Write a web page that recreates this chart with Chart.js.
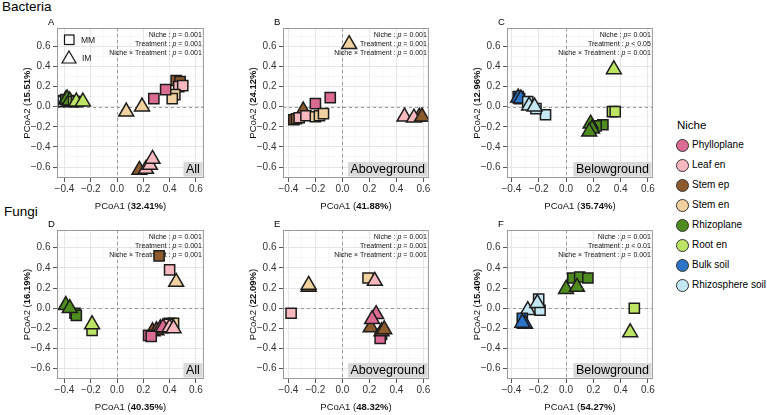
<!DOCTYPE html>
<html>
<head>
<meta charset="utf-8">
<script src="https://cdn.jsdelivr.net/npm/chart.js@4.4.0/dist/chart.umd.min.js"></script>
<style>
  body { margin: 0; background: #fff; font-family: "Liberation Sans", Arial, Helvetica, sans-serif; }
  #wrap { position: relative; width: 767px; height: 415px; overflow: hidden; }
  #wrap canvas { position: absolute; }
  .rowTitle { position: absolute; font-size: 13.5px; color: #000; line-height: 14px; }
  .lg { position: absolute; font-size: 10px; line-height: 12px; color: #000; white-space: nowrap; }
  .dot { position: absolute; width: 11px; height: 11px; border-radius: 50%; border: 1px solid #333; }
</style>
</head>
<body>
<div id="wrap">
  <div class="rowTitle" style="left:2px;top:0px;">Bacteria</div>
  <div class="rowTitle" style="left:4px;top:205px;">Fungi</div>
</div>
<script>
// niches and their fill colours
const niches = ['Phylloplane', 'Leaf en', 'Stem ep', 'Stem en', 'Rhizoplane', 'Root en', 'Bulk soil', 'Rhizosphere soil'];
const nicheColors = ['#dc6b93', '#f8b8c0', '#8d5a2e', '#f1d19f', '#4f8c1f', '#bde463', '#2b74c8', '#c4e7f4'];
const treatments = ['MM', 'IM'];

// gridline positions (every 0.1), labels only on the even ones
const xGrid = [-0.4, -0.3, -0.2, -0.1, 0.0, 0.1, 0.2, 0.3, 0.4, 0.5, 0.6];
const yGrid = [-0.7, -0.6, -0.5, -0.4, -0.3, -0.2, -0.1, 0.0, 0.1, 0.2, 0.3, 0.4, 0.5, 0.6, 0.7];

// points: [PCoA1, PCoA2, niche index, treatment index (0 = MM, 1 = IM)]
const bacAll = [
  [-0.42, 0.06, 6, 0], [-0.41, 0.05, 7, 0], [-0.39, 0.07, 7, 1], [-0.39, 0.07, 4, 0], [-0.37, 0.06, 4, 0],
  [-0.38, 0.08, 4, 1], [-0.36, 0.06, 4, 1], [-0.33, 0.05, 5, 0], [-0.31, 0.05, 5, 0], [-0.31, 0.05, 5, 1], [-0.26, 0.05, 5, 1],
  [0.07, -0.05, 3, 1], [0.19, 0.0, 3, 1],
  [0.45, 0.26, 2, 0], [0.48, 0.25, 2, 0], [0.47, 0.20, 1, 0], [0.50, 0.21, 1, 0],
  [0.44, 0.12, 3, 0], [0.42, 0.08, 3, 0], [0.37, 0.17, 0, 0], [0.28, 0.08, 0, 0],
  [0.17, -0.63, 2, 1], [0.22, -0.62, 1, 1], [0.25, -0.58, 1, 1], [0.27, -0.52, 1, 1]
];
const bacAbove = [
  [-0.29, -0.04, 2, 1], [-0.36, -0.13, 2, 0], [-0.34, -0.12, 2, 0],
  [-0.32, -0.11, 1, 0], [-0.27, -0.09, 1, 0], [-0.20, 0.03, 0, 0], [-0.09, 0.09, 0, 0],
  [-0.20, -0.10, 3, 0], [-0.17, -0.09, 3, 0], [-0.14, -0.07, 3, 0],
  [0.05, 0.62, 3, 1],
  [0.46, -0.10, 1, 1], [0.57, -0.10, 2, 1], [0.53, -0.11, 1, 1], [0.59, -0.10, 2, 1]
];
const bacBelow = [
  [-0.35, 0.10, 6, 0], [-0.34, 0.08, 6, 0], [-0.35, 0.09, 6, 1], [-0.33, 0.08, 6, 1],
  [-0.28, 0.05, 7, 0], [-0.15, -0.08, 7, 0], [-0.22, -0.02, 7, 0], [-0.27, 0.01, 7, 1], [-0.23, 0.0, 7, 1],
  [0.27, -0.18, 4, 0], [0.22, -0.19, 4, 0], [0.18, -0.17, 4, 1], [0.19, -0.22, 4, 1], [0.17, -0.25, 4, 1],
  [0.34, -0.05, 5, 0], [0.36, -0.05, 5, 0], [0.35, 0.37, 5, 1]
];
const fungAll = [
  [-0.39, 0.03, 4, 1], [-0.32, -0.05, 4, 0], [-0.31, -0.07, 4, 0], [-0.36, 0.0, 4, 1],
  [-0.19, -0.22, 5, 0], [-0.19, -0.16, 5, 1],
  [0.32, 0.52, 2, 0], [0.40, 0.38, 1, 0], [0.45, 0.26, 3, 1],
  [0.40, -0.15, 2, 0], [0.43, -0.15, 3, 0], [0.39, -0.16, 1, 0],
  [0.27, -0.23, 2, 1], [0.30, -0.22, 2, 1], [0.33, -0.20, 0, 1], [0.35, -0.19, 0, 1],
  [0.40, -0.19, 1, 1], [0.43, -0.20, 1, 1], [0.24, -0.27, 0, 0], [0.26, -0.28, 0, 0]
];
const fungAbove = [
  [-0.38, -0.05, 1, 0], [-0.25, 0.21, 2, 1], [-0.25, 0.23, 3, 1], [0.19, 0.30, 3, 0], [0.24, 0.27, 1, 1],
  [0.25, -0.06, 0, 1], [0.21, -0.19, 2, 1], [0.22, -0.11, 0, 1],
  [0.29, -0.26, 2, 0], [0.28, -0.30, 0, 0], [0.29, -0.23, 2, 1], [0.31, -0.21, 2, 1]
];
const fungBelow = [
  [0.05, 0.30, 4, 0], [0.10, 0.31, 4, 0], [0.16, 0.30, 4, 0], [0.00, 0.19, 4, 1], [0.08, 0.21, 4, 1],
  [0.50, 0.0, 5, 0], [0.47, -0.24, 5, 1],
  [-0.20, 0.09, 7, 0], [-0.19, -0.02, 7, 0], [-0.28, -0.02, 7, 1], [-0.21, 0.05, 7, 1],
  [-0.32, -0.10, 6, 0], [-0.30, -0.155, 6, 1], [-0.32, -0.145, 6, 1]
];

// PERMANOVA lines
const statLabels = ['Niche : ', 'Treatment : ', 'Niche \u00d7 Treatment : '];
const statsStd = [' = 0.001', ' = 0.001', ' = 0.001'];
const statsC = ['= 0.001', ' < 0.05', ' = 0.001'];
const statsF = [' = 0.001', ' < 0.01', ' = 0.001'];

const FONT = '"Liberation Sans", Arial, Helvetica, sans-serif';
Chart.defaults.font.family = FONT;

const panels = [
  { letter: 'A', pts: bacAll, xr: [-0.457, 0.661], yr: [-0.709, 0.782], rect: [57, 28, 208, 178], px: '32.41%', py: '15.51%', stats: statsStd, tag: 'All', inset: true },
  { letter: 'B', pts: bacAbove, xr: [-0.44, 0.641], yr: [-0.709, 0.782], rect: [283, 28, 433, 178], px: '41.88%', py: '24.12%', stats: statsStd, tag: 'Aboveground' },
  { letter: 'C', pts: bacBelow, xr: [-0.432, 0.636], yr: [-0.709, 0.782], rect: [507, 28, 657, 178], px: '35.74%', py: '12.96%', stats: statsC, tag: 'Belowground' },
  { letter: 'D', pts: fungAll, xr: [-0.457, 0.661], yr: [-0.702, 0.776], rect: [57, 230, 208, 379], px: '40.35%', py: '16.19%', stats: statsStd, tag: 'All' },
  { letter: 'E', pts: fungAbove, xr: [-0.44, 0.641], yr: [-0.702, 0.776], rect: [283, 230, 433, 379], px: '48.32%', py: '22.09%', stats: statsStd, tag: 'Aboveground' },
  { letter: 'F', pts: fungBelow, xr: [-0.432, 0.636], yr: [-0.702, 0.776], rect: [507, 230, 657, 379], px: '54.27%', py: '15.40%', stats: statsF, tag: 'Belowground' }
];

const isMajor = v => Math.abs(Math.round(v * 10)) % 2 === 0;
const fmt = v => (v < -1e-9 ? '\u2212' : '') + Math.abs(v).toFixed(1);

function axis(range, grid, fitSize, isX) {
  return {
    type: 'linear',
    min: range[0],
    max: range[1],
    afterBuildTicks: s => { s.ticks = grid.map(v => ({ value: v })); },
    afterFit: s => { if (isX) s.height = fitSize; else s.width = fitSize; },
    grid: {
      color: c => (c.tick && isMajor(c.tick.value)) ? '#e3e3e3' : '#f2f2f2',
      lineWidth: c => (c.tick && isMajor(c.tick.value)) ? 0.9 : 0.6,
      tickColor: c => (c.tick && isMajor(c.tick.value)) ? '#555' : 'rgba(0,0,0,0)',
      tickLength: 4,
      tickWidth: 1
    },
    border: { display: false },
    ticks: {
      autoSkip: false, maxRotation: 0, minRotation: 0,
      padding: isX ? 1 : 2.5,
      color: '#333',
      font: { size: 10 },
      callback: v => isMajor(v) ? fmt(v) : ''
    }
  };
}

// draws "PCoA1 (" + bold pct + ")" centred at 0,0 of the current transform
function mixedTitle(ctx, head, pct) {
  ctx.font = '9.5px ' + FONT;
  const w1 = ctx.measureText(head + ' (').width;
  ctx.font = 'bold 9.5px ' + FONT;
  const w2 = ctx.measureText(pct).width;
  ctx.font = '9.5px ' + FONT;
  const w3 = ctx.measureText(')').width;
  let x = -(w1 + w2 + w3) / 2;
  ctx.textAlign = 'left';
  ctx.textBaseline = 'middle';
  ctx.fillText(head + ' (', x, 0);
  ctx.font = 'bold 9.5px ' + FONT;
  ctx.fillText(pct, x + w1, 0);
  ctx.font = '9.5px ' + FONT;
  ctx.fillText(')', x + w1 + w2, 0);
}

function decor(p) {
  return {
    id: 'decor' + p.letter,
    beforeDatasetsDraw(chart) {
      const { ctx, chartArea: a, scales: { x, y } } = chart;
      ctx.save();
      // dashed zero lines
      ctx.strokeStyle = '#9a9a9a';
      ctx.lineWidth = 1;
      ctx.setLineDash([3, 3]);
      const x0 = Math.round(x.getPixelForValue(0)) + 0.5;
      const y0 = Math.round(y.getPixelForValue(0)) + 0.5;
      ctx.beginPath();
      ctx.moveTo(x0, a.top); ctx.lineTo(x0, a.bottom);
      ctx.moveTo(a.left, y0); ctx.lineTo(a.right, y0);
      ctx.stroke();
      ctx.setLineDash([]);
      // statistics, right aligned
      ctx.fillStyle = '#111';
      ctx.textBaseline = 'middle';
      for (let i = 0; i < 3; i++) {
        const yy = a.top + 7 + i * 8.8;
        ctx.font = '7px ' + FONT;
        const wTail = ctx.measureText(p.stats[i]).width;
        const wHead = ctx.measureText(statLabels[i]).width;
        ctx.font = 'italic 7px ' + FONT;
        const wP = ctx.measureText('p').width;
        let xx = a.right - 2 - wTail - wP - wHead;
        ctx.textAlign = 'left';
        ctx.font = '7px ' + FONT;
        ctx.fillText(statLabels[i], xx, yy);
        ctx.font = 'italic 7px ' + FONT;
        ctx.fillText('p', xx + wHead, yy);
        ctx.font = '7px ' + FONT;
        ctx.fillText(p.stats[i], xx + wHead + wP, yy);
      }
      // MM / IM key in panel A
      if (p.inset) {
        ctx.strokeStyle = '#111';
        ctx.lineWidth = 1.2;
        ctx.strokeRect(a.left + 7.5, a.top + 7, 9.5, 9.5);
        ctx.beginPath();
        const cx = a.left + 12, cy = a.top + 30;
        ctx.moveTo(cx, cy - 7); ctx.lineTo(cx + 7, cy + 5); ctx.lineTo(cx - 7, cy + 5); ctx.closePath();
        ctx.stroke();
        ctx.fillStyle = '#111';
        ctx.font = '8.5px ' + FONT;
        ctx.textAlign = 'left';
        ctx.fillText(treatments[0], a.left + 24, a.top + 12.5);
        ctx.fillText(treatments[1], a.left + 25, a.top + 31);
      }
      ctx.restore();
    },
    afterDraw(chart) {
      const { ctx, chartArea: a } = chart;
      ctx.save();
      // panel border
      ctx.strokeStyle = '#9b9b9b';
      ctx.lineWidth = 1;
      ctx.strokeRect(a.left + 0.5, a.top + 0.5, a.right - a.left - 1, a.bottom - a.top - 1);
      // subset tag
      ctx.font = '12.5px ' + FONT;
      const tw = ctx.measureText(p.tag).width;
      const bw = tw + 5, bh = 14.5;
      const bx = a.right - 1.5 - bw, by = a.bottom - 1.5 - bh;
      ctx.fillStyle = '#d9d9d9';
      ctx.fillRect(bx, by, bw, bh);
      ctx.fillStyle = '#000';
      ctx.textAlign = 'left';
      ctx.textBaseline = 'middle';
      ctx.fillText(p.tag, bx + 2.5, by + bh / 2 + 0.5);
      // panel letter
      ctx.font = '9.5px ' + FONT;
      ctx.fillText(p.letter, a.left - 9, a.top - 6);
      // axis titles
      ctx.fillStyle = '#111';
      ctx.save();
      ctx.translate((a.left + a.right) / 2, a.bottom + 28);
      mixedTitle(ctx, 'PCoA1', p.px);
      ctx.restore();
      ctx.save();
      ctx.translate(a.left - 30, (a.top + a.bottom) / 2);
      ctx.rotate(-Math.PI / 2);
      mixedTitle(ctx, 'PCoA2', p.py);
      ctx.restore();
      ctx.restore();
    }
  };
}

const wrap = document.getElementById('wrap');
panels.forEach(p => {
  const [L, T, R, B] = p.rect;
  const cx = L - 57, cy = T - 28;
  const cw = R + 6 - cx, ch = Math.min(B + 36, 415) - cy;
  const cv = document.createElement('canvas');
  cv.width = cw; cv.height = ch;
  cv.style.left = cx + 'px'; cv.style.top = cy + 'px';
  cv.style.width = cw + 'px'; cv.style.height = ch + 'px';
  wrap.appendChild(cv);
  new Chart(cv, {
    type: 'scatter',
    data: {
      datasets: [{
        data: p.pts.map(d => ({ x: d[0], y: d[1] })),
        pointStyle: p.pts.map(d => d[3] ? 'triangle' : 'rect'),
        pointRadius: p.pts.map(d => d[3] ? 8.6 : 7.2),
        pointBackgroundColor: p.pts.map(d => nicheColors[d[2]]),
        pointBorderColor: '#1c1c1c',
        pointBorderWidth: 1.5
      }]
    },
    options: {
      responsive: false,
      animation: false,
      devicePixelRatio: 1,
      events: [],
      layout: { padding: { left: 0, top: T - cy, right: cx + cw - R, bottom: 0 } },
      plugins: { legend: { display: false }, tooltip: { enabled: false } },
      scales: {
        x: axis(p.xr, xGrid, cy + ch - B, true),
        y: axis(p.yr, yGrid, L - cx, false)
      }
    },
    plugins: [decor(p)]
  });
});

// niche legend
const lgTitle = document.createElement('div');
lgTitle.className = 'lg';
lgTitle.style.cssText = 'left:677px;top:119px;font-size:11.5px;';
lgTitle.textContent = 'Niche';
wrap.appendChild(lgTitle);
niches.forEach((n, i) => {
  const yc = 145 + i * 20;
  const dot = document.createElement('div');
  dot.className = 'dot';
  dot.style.left = '676px';
  dot.style.top = (yc - 6.5) + 'px';
  dot.style.background = nicheColors[i];
  wrap.appendChild(dot);
  const t = document.createElement('div');
  t.className = 'lg';
  t.style.left = '692px';
  t.style.top = (yc - 6) + 'px';
  t.textContent = n;
  wrap.appendChild(t);
});
</script>
</body>
</html>
